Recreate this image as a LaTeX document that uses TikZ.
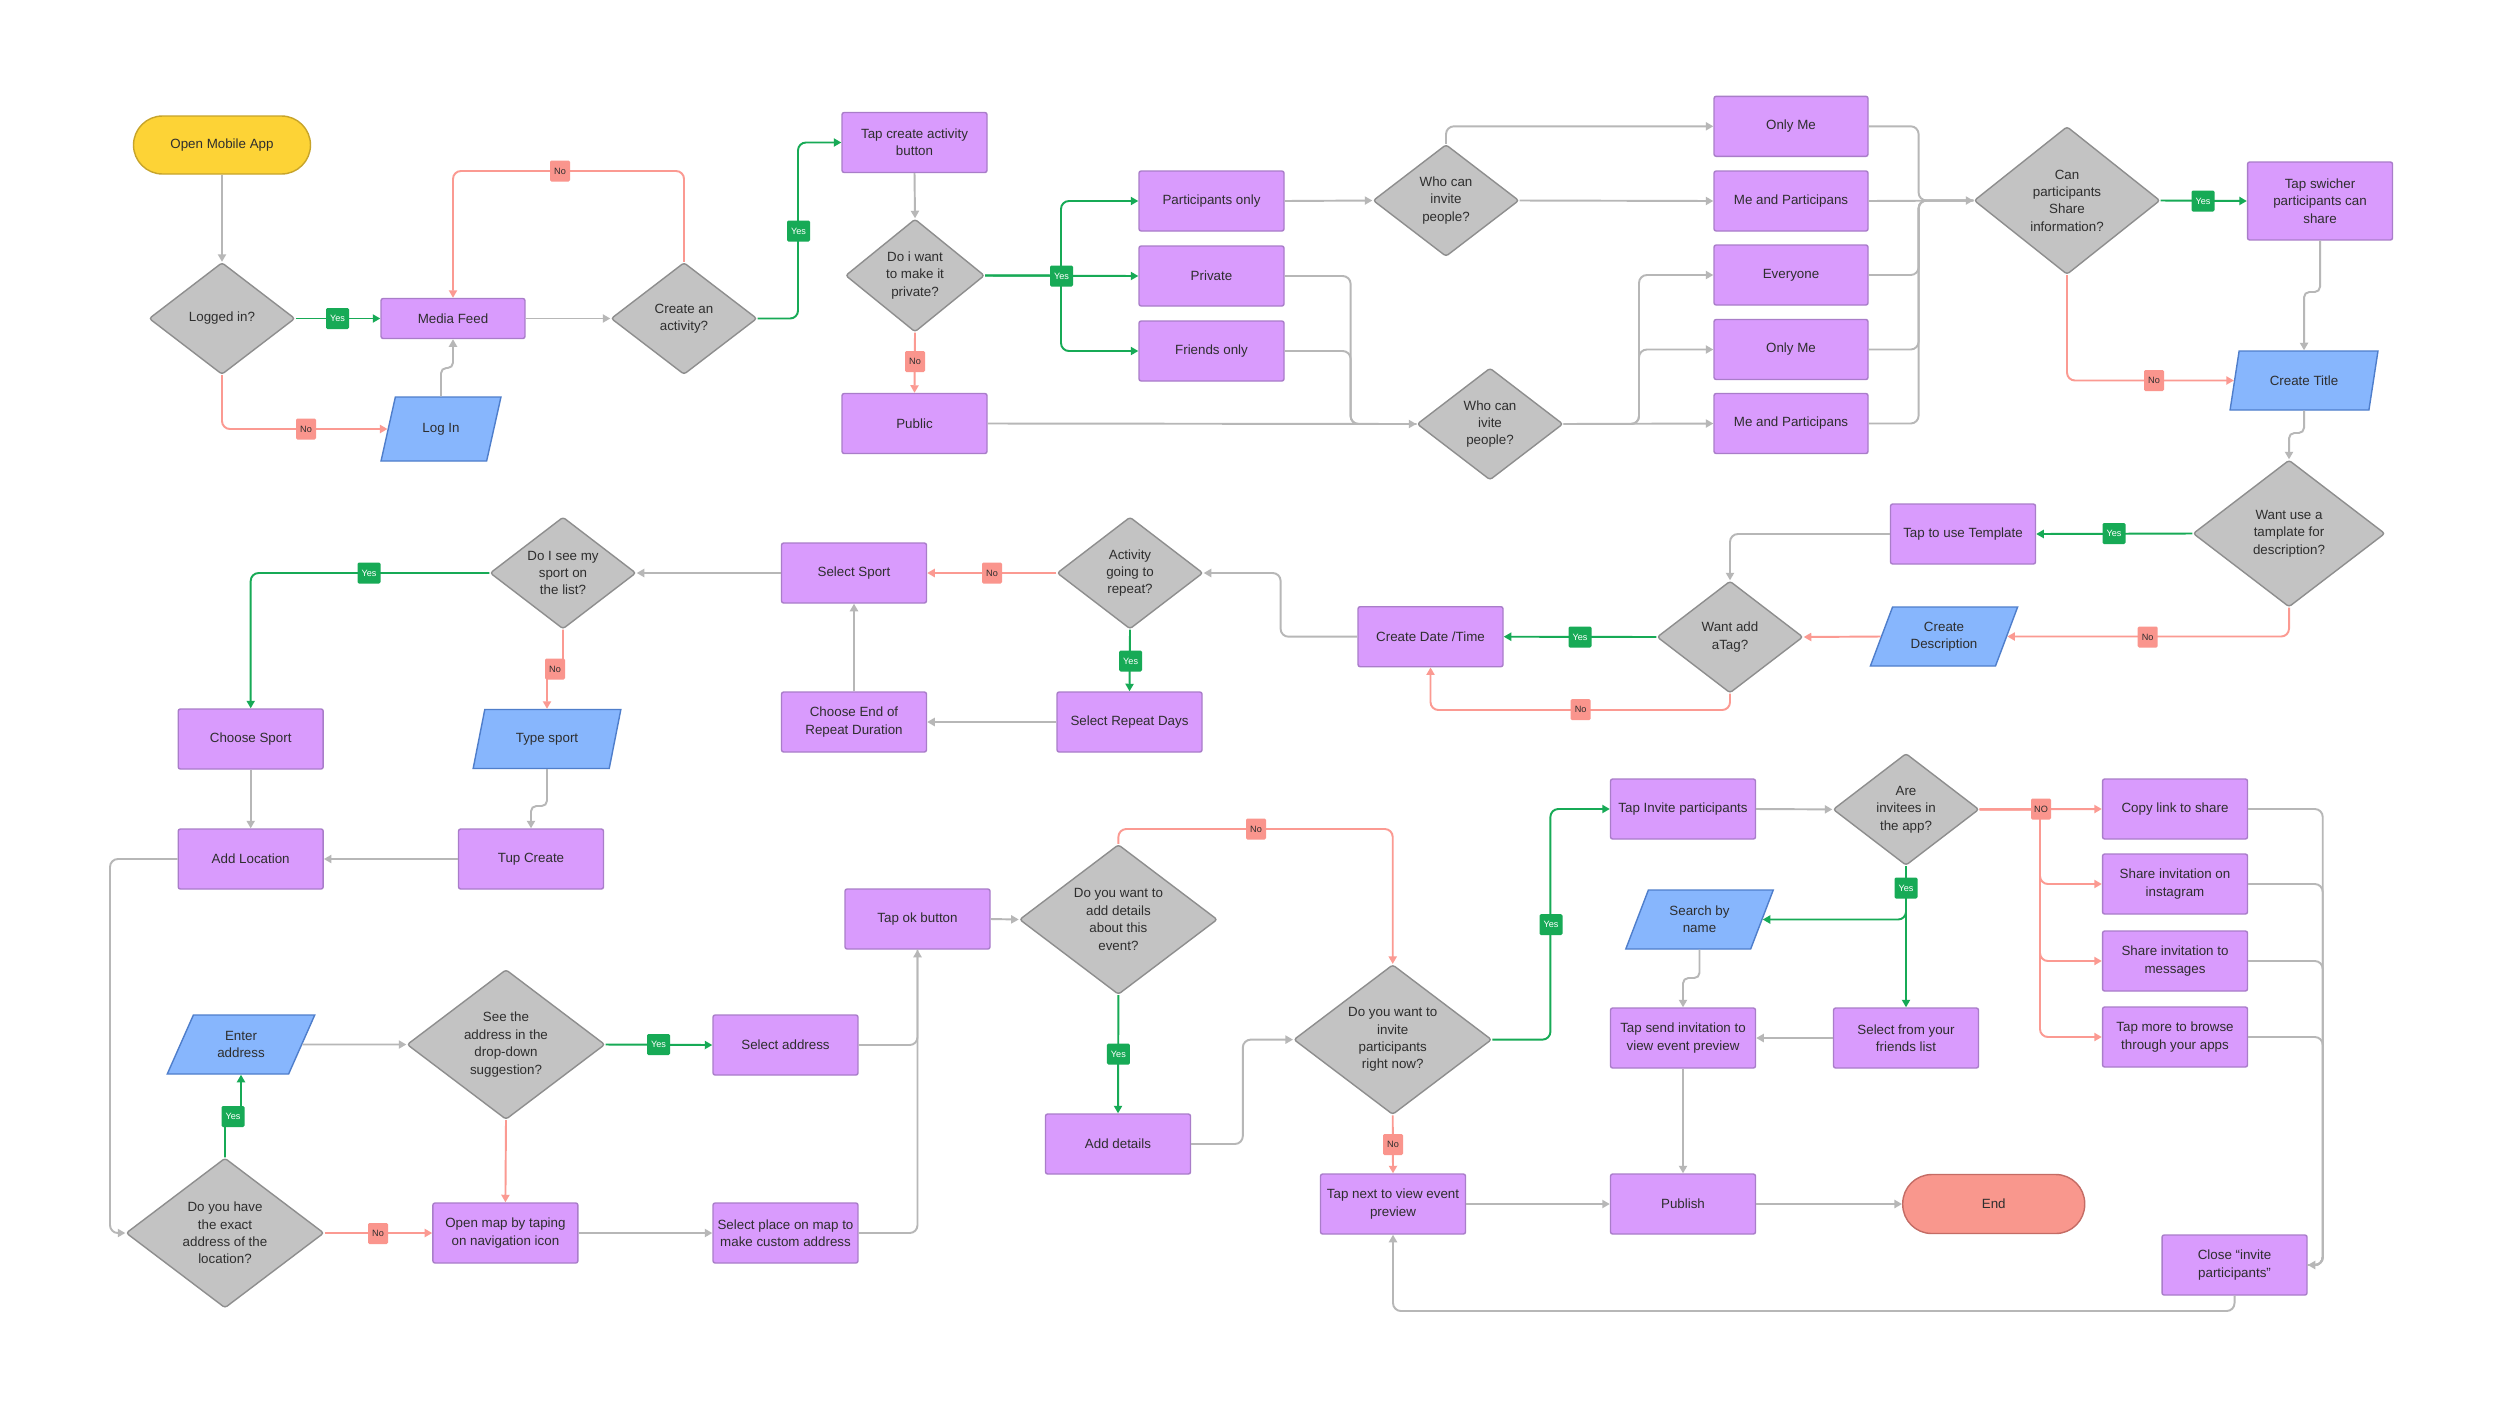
\documentclass[tikz,border=0pt]{standalone}
\usepackage{fontspec}
\setmainfont{Liberation Sans}
\usetikzlibrary{shapes.geometric,arrows.meta}
\definecolor{boxfill}{HTML}{D99BFD}
\definecolor{boxline}{HTML}{A97DC9}
\definecolor{decfill}{HTML}{C3C3C3}
\definecolor{decline}{HTML}{8E8E8E}
\definecolor{iofill}{HTML}{87B6FD}
\definecolor{ioline}{HTML}{4F7ECB}
\definecolor{startfill}{HTML}{FDD336}
\definecolor{startline}{HTML}{C7A42A}
\definecolor{endfill}{HTML}{F9978D}
\definecolor{endline}{HTML}{C46C65}
\definecolor{gline}{HTML}{B7B7B7}
\definecolor{gyes}{HTML}{17AA56}
\definecolor{rno}{HTML}{FB9A92}
\definecolor{nofill}{HTML}{FA958D}
\definecolor{txt}{HTML}{2E2E2E}
\begin{document}
\begin{tikzpicture}[x=0.02cm,y=-0.02cm,
  every node/.style={text=txt,font=\fontsize{7.6}{9.9}\selectfont,align=center},
  proc/.style={rectangle,rounded corners=1.2pt,draw=boxline,fill=boxfill,line width=0.8pt,minimum width=2.9cm,minimum height=1.2cm,inner sep=1pt},
  wide/.style={minimum width=3.08cm},
  dec/.style={diamond,aspect=1.3,draw=decline,fill=decfill,line width=0.8pt,rounded corners=1.5pt,inner sep=0pt,minimum width=2.92cm,minimum height=2.24cm},
  bigdec/.style={dec,minimum width=3.96cm,minimum height=3.0cm},
  io/.style={trapezium,trapezium left angle=64,trapezium right angle=116,trapezium stretches=true,draw=ioline,fill=iofill,line width=0.8pt,minimum width=2.96cm,minimum height=1.18cm,inner sep=0pt},
  term/.style={rectangle,rounded corners=0.58cm,line width=0.8pt},
  gc/.style={draw=gline,line width=1.1pt,rounded corners=4.5pt},
  grc/.style={draw=gyes,line width=1.1pt,rounded corners=4.5pt},
  rc/.style={draw=rno,line width=1.1pt,rounded corners=4.5pt},
  jog/.style={rounded corners=3pt},
  arr/.style={-{Triangle[length=4.3pt,width=4.6pt]}},
  yeslab/.style={rectangle,fill=gyes,text=white,font=\fontsize{5.2}{6}\selectfont,minimum width=0.46cm,minimum height=0.42cm,inner sep=0pt,rounded corners=0.8pt},
  nolab/.style={rectangle,fill=nofill,text=txt,font=\fontsize{5.2}{6}\selectfont,minimum width=0.4cm,minimum height=0.42cm,inner sep=0pt,rounded corners=0.8pt}]
\fill[white] (0,0) rectangle (2500,1407);
\useasboundingbox (0,0) rectangle (2500,1407);

% ---------- nodes ----------
\node[term,fill=startfill,draw=startline,minimum width=3.54cm,minimum height=1.16cm] (start) at (222,145) {Open Mobile App};
\node[dec] (logged) at (222,318.5) {Logged in?};
\node[proc,minimum width=2.88cm,minimum height=0.8cm] (feed) at (453,318.5) {Media Feed};
\node[io,minimum width=2.4cm,minimum height=1.28cm] (login) at (441,429) {Log In};
\node[dec] (createq) at (684,318.5) {Create an\\activity?};
\node[proc] (tapcreate) at (914.5,142.5) {Tap create activity\\button};
\node[dec,minimum width=2.78cm,minimum height=2.26cm] (privq) at (915,275.5) {Do i want\\to make it\\private?};
\node[proc] (partonly) at (1211.5,201) {Participants only};
\node[proc] (privbox) at (1211.5,276) {Private};
\node[proc] (friends) at (1211.5,351) {Friends only};
\node[proc] (public) at (914.5,423.5) {Public};
\node[dec] (who1) at (1446,200.5) {Who can\\invite\\people?};
\node[dec] (who2) at (1490,424) {Who can\\ivite\\people?};
\node[proc,wide] (onlyme1) at (1791,126.3) {Only Me};
\node[proc,wide] (meand1) at (1791,201) {Me and Participans};
\node[proc,wide] (everyone) at (1791,275) {Everyone};
\node[proc,wide] (onlyme2) at (1791,349.5) {Only Me};
\node[proc,wide] (meand2) at (1791,423.5) {Me and Participans};
\node[dec,minimum width=3.72cm,minimum height=2.96cm] (canshare) at (2067,200.5) {Can\\participants\\Share\\information?};
\node[proc,minimum height=1.56cm] (switcher) at (2320,201) {Tap swicher\\participants can\\share};
\node[io] (title) at (2304,380.5) {Create Title};
\node[dec,minimum width=3.84cm,minimum height=2.94cm] (templq) at (2289,533.5) {Want use a\\tamplate for\\description?};
\node[proc] (usetempl) at (1963,534) {Tap to use Template};
\node[dec] (tagq) at (1730,637) {Want add\\aTag?};
\node[io] (desc) at (1944,636.5) {Create\\Description};
\node[proc] (datetime) at (1430.5,636.7) {Create Date /Time};
\node[dec] (repeatq) at (1130,573) {Activity\\going to\\repeat?};
\node[proc] (selsport) at (854,573) {Select Sport};
\node[proc] (repdays) at (1129.5,722) {Select Repeat Days};
\node[proc] (enddur) at (854,722) {Choose End of\\Repeat Duration};
\node[dec] (seesport) at (563,573) {Do I see my\\sport on\\the list?};
\node[proc] (choose) at (250.7,739) {Choose Sport};
\node[io] (typesport) at (547,739) {Type sport};
\node[proc] (addloc) at (250.7,859) {Add Location};
\node[proc] (tup) at (531,859) {Tup Create};
\node[bigdec] (exactq) at (225,1233) {Do you have\\the exact\\address of the\\location?};
\node[io] (enteraddr) at (241,1044.5) {Enter\\address};
\node[bigdec] (seeaddr) at (506,1044.5) {See the\\address in the\\drop-down\\suggestion?};
\node[proc] (seladdr) at (785.5,1045) {Select address};
\node[proc] (openmap) at (505.4,1233) {Open map by taping\\on navigation icon};
\node[proc] (selplace) at (785.5,1233) {Select place on map to\\make custom address};
\node[proc] (tapok) at (917.5,919) {Tap ok button};
\node[bigdec] (detailsq) at (1118.4,919.5) {Do you want to\\add details\\about this\\event?};
\node[proc] (adddetails) at (1118,1144) {Add details};
\node[bigdec] (inviteq) at (1392.7,1039.6) {Do you want to\\invite\\participants\\right now?};
\node[proc] (tapnext) at (1393,1204) {Tap next to view event\\preview};
\node[proc] (tapinvite) at (1683,809) {Tap Invite participants};
\node[dec] (areq) at (1906,809.4) {Are\\invitees in\\the app?};
\node[proc] (copylink) at (2175,809) {Copy link to share};
\node[proc] (insta) at (2175,884) {Share invitation on\\instagram};
\node[proc] (msgs) at (2175,961) {Share invitation to\\messages};
\node[proc] (more) at (2175,1037) {Tap more to browse\\through your apps};
\node[proc] (closeinv) at (2234.5,1265) {Close “invite\\participants”};
\node[io] (search) at (1699.5,919.5) {Search by\\name};
\node[proc] (friendslist) at (1906,1038) {Select from your\\friends list};
\node[proc] (tapsend) at (1683,1038) {Tap send invitation to\\view event preview};
\node[proc] (publish) at (1683,1204) {Publish};
\node[term,fill=endfill,draw=endline,minimum width=3.64cm,minimum height=1.18cm] (end) at (1993.7,1204) {End};

% ---------- connectors ----------
\draw[gc,arr] (start.south) -- (logged.north);
\draw[grc,arr] (logged.east) -- (feed.west);
\draw[rc,arr] (logged.south) |- (login.west);
\draw[gc,jog,arr] (login.north) -- (441,368) -- (453,368) -- (feed.south);
\draw[rc,arr] (createq.north) -- (createq.north |- 0,171) -- (feed.north |- 0,171) -- (feed.north);
\draw[gc,arr] (feed.east) -- (createq.west);
\draw[grc,arr] (createq.east) -- (798,318.5) -- (798,142.5) -- (tapcreate.west);
\draw[gc,arr] (tapcreate.south) -- (privq.north);
\draw[grc,arr] (privq.east) -- (privbox.west);
\draw[grc,arr] (privq.east) -- (1061,275.5) -- (1061,201) -- (partonly.west);
\draw[grc,arr] (privq.east) -- (1061,275.5) -- (1061,351) -- (friends.west);
\draw[rc,arr] (privq.south) -- (public.north);
\draw[gc,arr] (partonly.east) -- (who1.west);
\draw[gc,arr] (public.east) -- (who2.west);
\draw[gc] (privbox.east) -- (1350.6,276) -- (1350.6,424) -- (who2.west);
\draw[gc] (friends.east) -- (1350.6,351) -- (1350.6,424) -- (who2.west);
\draw[gc,arr] (who1.north) |- (onlyme1.west);
\draw[gc,arr] (who1.east) -- (meand1.west);
\draw[gc,arr] (who2.east) -- (meand2.west);
\draw[gc,arr] (who2.east) -- (1639,424) -- (1639,275) -- (everyone.west);
\draw[gc,arr] (who2.east) -- (1639,424) -- (1639,349.5) -- (onlyme2.west);
\draw[gc] (onlyme1.east) -- (1918.6,126.3) -- (1918.6,200.5) -- (canshare.west);
\draw[gc] (everyone.east) -- (1918.6,275) -- (1918.6,200.5) -- (canshare.west);
\draw[gc] (onlyme2.east) -- (1918.6,349.5) -- (1918.6,200.5) -- (canshare.west);
\draw[gc] (meand2.east) -- (1918.6,423.5) -- (1918.6,200.5) -- (canshare.west);
\draw[gc,arr] (meand1.east) -- (canshare.west);
\draw[grc,arr] (canshare.east) -- (switcher.west);
\draw[rc,arr] (canshare.south) |- (title.west);
\draw[gc,jog,arr] (switcher.south) -- (2320,292) -- (2304,292) -- (title.north);
\draw[gc,jog,arr] (title.south) -- (2304,433) -- (2289,433) -- (templq.north);
\draw[grc,arr] (templq.west) -- (usetempl.east);
\draw[rc,arr] (templq.south) |- (desc.east);
\draw[gc,arr] (usetempl.west) -| (tagq.north);
\draw[rc,arr] (desc.west) -- (tagq.east);
\draw[grc,arr] (tagq.west) -- (datetime.east);
\draw[rc,arr] (tagq.south) -- (1730,710) -| (datetime.south);
\draw[gc,arr] (datetime.west) -- (1280.6,636.7) |- (repeatq.east);
\draw[rc,arr] (repeatq.west) -- (selsport.east);
\draw[grc,arr] (repeatq.south) -- (repdays.north);
\draw[gc,arr] (repdays.west) -- (enddur.east);
\draw[gc,arr] (enddur.north) -- (selsport.south);
\draw[gc,arr] (selsport.west) -- (seesport.east);
\draw[grc,arr] (seesport.west) -| (choose.north);
\draw[rc,jog,arr] (seesport.south) -- (563,669) -- (547,669) -- (typesport.north);
\draw[gc,arr] (choose.south) -- (addloc.north);
\draw[gc,jog,arr] (typesport.south) -- (547,806) -- (531,806) -- (tup.north);
\draw[gc,arr] (tup.west) -- (addloc.east);
\draw[gc,arr] (addloc.west) -- (110,859) |- (exactq.west);
\draw[grc,jog,arr] (exactq.north) -- (225,1116) -- (241,1116) -- (enteraddr.south);
\draw[gc,arr] (enteraddr.east) -- (seeaddr.west);
\draw[grc,arr] (seeaddr.east) -- (seladdr.west);
\draw[rc,arr] (seeaddr.south) -- (openmap.north);
\draw[rc,arr] (exactq.east) -- (openmap.west);
\draw[gc,arr] (openmap.east) -- (selplace.west);
\draw[gc,arr] (selplace.east) -| (tapok.south);
\draw[gc] (seladdr.east) -| (tapok.south);
\draw[gc,arr] (tapok.east) -- (detailsq.west);
\draw[rc,arr] (detailsq.north) -- (1118.4,829) -| (inviteq.north);
\draw[grc,arr] (detailsq.south) -- (adddetails.north);
\draw[gc,arr] (adddetails.east) -- (1242.8,1144) |- (inviteq.west);
\draw[grc,arr] (inviteq.east) -- (1550.4,1039.6) |- (tapinvite.west);
\draw[rc,arr] (inviteq.south) -- (tapnext.north);
\draw[gc,arr] (tapnext.east) -- (publish.west);
\draw[gc,arr] (tapinvite.east) -- (areq.west);
\draw[rc,arr] (areq.east) -- (copylink.west);
\draw[rc,arr] (areq.east) -- (2040,809.4) |- (insta.west);
\draw[rc,arr] (areq.east) -- (2040,809.4) |- (msgs.west);
\draw[rc,arr] (areq.east) -- (2040,809.4) |- (more.west);
\draw[grc,arr] (areq.south) -- (friendslist.north);
\draw[grc,arr] (areq.south) -- (1906,919.5) -- (search.east);
\draw[gc,jog,arr] (search.south) -- (1699.5,978) -- (1683,978) -- (tapsend.north);
\draw[gc,arr] (friendslist.west) -- (tapsend.east);
\draw[gc,arr] (tapsend.south) -- (publish.north);
\draw[gc,arr] (publish.east) -- (end.west);
\draw[gc,arr] (copylink.east) -- (2322.7,809) |- (closeinv.east);
\draw[gc] (insta.east) -- (2322.7,884) |- (closeinv.east);
\draw[gc] (msgs.east) -- (2322.7,961) |- (closeinv.east);
\draw[gc] (more.east) -- (2322.7,1037) |- (closeinv.east);
\draw[gc,arr] (closeinv.south) -- (2234.5,1311) -| (tapnext.south);

% ---------- labels ----------
\node[yeslab] (l1) at (337.5,318.5) {Yes};
\node[nolab] (l2) at (306,429) {No};
\node[nolab] (l3) at (560,171) {No};
\node[yeslab] (l4) at (798.5,231) {Yes};
\node[yeslab] (l5) at (1061.5,276) {Yes};
\node[nolab] (l6) at (915,361.5) {No};
\node[yeslab] (l7) at (2203,201) {Yes};
\node[nolab] (l8) at (2154,380.5) {No};
\node[yeslab] (l9) at (2114,533.5) {Yes};
\node[nolab] (l10) at (2147.7,637) {No};
\node[yeslab] (l11) at (1580,637) {Yes};
\node[nolab] (l12) at (1580.6,709.7) {No};
\node[nolab] (l13) at (992,573) {No};
\node[yeslab] (l14) at (1130.6,661) {Yes};
\node[yeslab] (l15) at (369,573) {Yes};
\node[nolab] (l16) at (555,669) {No};
\node[yeslab] (l17) at (233,1116.5) {Yes};
\node[yeslab] (l18) at (658.5,1044.5) {Yes};
\node[nolab] (l19) at (378,1233.5) {No};
\node[nolab] (l20) at (1256,829) {No};
\node[yeslab] (l21) at (1118.4,1054) {Yes};
\node[yeslab] (l22) at (1551,924.6) {Yes};
\node[nolab] (l23) at (1393,1144.5) {No};
\node[nolab] (l24) at (2041,809) {NO};
\node[yeslab] (l25) at (1906,888) {Yes};
\end{tikzpicture}
\end{document}
